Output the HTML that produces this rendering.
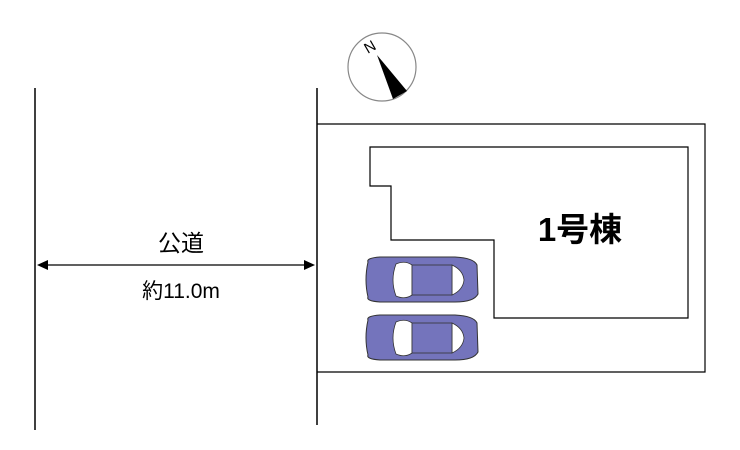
<!DOCTYPE html><html><head><style>body{margin:0;background:#fff}svg{display:block}text{font-family:"Liberation Sans","Noto Sans CJK JP",sans-serif}</style></head><body>
<svg width="740" height="450" viewBox="0 0 740 450">
<g stroke="#000" fill="none" stroke-width="1.5">
<line x1="35" y1="88" x2="35" y2="430"/>
<line x1="317" y1="88" x2="317" y2="425"/>
<polyline points="317,124 705,124 705,372 317,372" stroke-width="1.2"/>
<polygon points="370,147 688,147 688,318 494,318 494,240 391,240 391,186 370,186" stroke-width="1.2"/>
<line x1="44" y1="265" x2="306" y2="265" stroke-width="1.2"/>
</g>
<polygon points="37,265 48,260 48,270" fill="#000"/>
<polygon points="315,265 304,260 304,270" fill="#000"/>
<text x="181" y="251" font-size="23" text-anchor="middle">公道</text>
<text x="181" y="298" font-size="21" text-anchor="middle">約11.0m</text>
<text x="580" y="241" font-size="33" font-weight="bold" text-anchor="middle">1号棟</text>
<circle cx="382" cy="67" r="34" fill="#fff" stroke="#888" stroke-width="1.2"/>
<polygon points="377,55 393,99 407,91" fill="#000"/>
<text x="370" y="52" font-size="15" font-family="Liberation Serif" transform="rotate(-30 370 47)" text-anchor="middle">N</text>
<g id="car">
<path d="M368,262 Q366,258 380,257 L455,257 Q474,258 477,265 L478,294 Q474,302 455,302 L380,302 Q366,301 368,297 Q364,280 368,262Z" fill="#7474bc" stroke="#333" stroke-width="1"/>
<path d="M396,264 Q405,260 412,265 L412,295 Q405,300 396,296 Q390,280 396,264Z" fill="#fff" stroke="#333" stroke-width="0.8"/>
<path d="M452,265 Q463,270 464,280 Q463,290 452,295 Z" fill="#fff" stroke="#333" stroke-width="0.8"/>
<rect x="412" y="265" width="40" height="30" fill="#7474bc" stroke="#333" stroke-width="0.8"/>
</g>
<use href="#car" transform="translate(0,58)"/>
</svg></body></html>
